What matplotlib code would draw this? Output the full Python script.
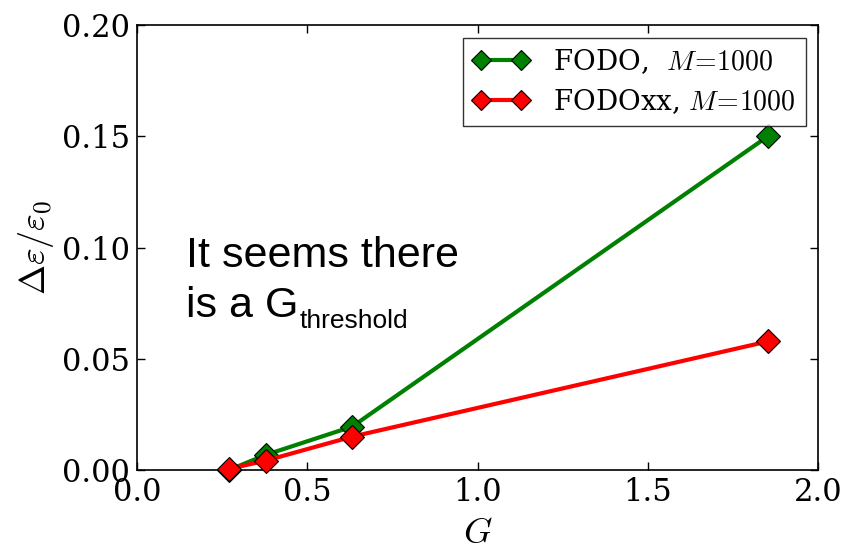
import matplotlib
matplotlib.use("Agg")
import matplotlib.pyplot as plt

G_fodo = [0.27, 0.378, 0.632, 1.853]
de_fodo = [0.0, 0.0068, 0.0195, 0.150]
G_fodoxx = [0.27, 0.378, 0.632, 1.853]
de_fodoxx = [0.0005, 0.0042, 0.0150, 0.0578]

plt.rcParams['mathtext.fontset'] = 'cm'
plt.rcParams['font.family'] = ['DejaVu Serif']
plt.rcParams['axes.unicode_minus'] = False

fig = plt.figure(figsize=(8.58, 5.53), dpi=100)
ax = fig.add_axes([137/858, 1-470/553, (818-137)/858, (470-25)/553])

ax.plot(G_fodo, de_fodo, '-D', color='green', lw=3, ms=12, mec='black', mew=0.8,
        label=r'FODO,  $M\!=\!1000$', clip_on=False, zorder=3)
ax.plot(G_fodoxx, de_fodoxx, '-D', color='red', lw=3, ms=12, mec='black', mew=0.8,
        label=r'FODOxx, $M\!=\!1000$', clip_on=False, zorder=4)

ax.set_xlim(0, 2.0)
ax.set_ylim(0, 0.20)
ax.set_xticks([0.0, 0.5, 1.0, 1.5, 2.0])
ax.set_yticks([0.0, 0.05, 0.10, 0.15, 0.20])
ax.set_xticklabels(['0.0', '0.5', '1.0', '1.5', '2.0'])
ax.set_yticklabels(['0.00', '0.05', '0.10', '0.15', '0.20'])
ax.tick_params(direction='in', top=True, right=True, length=6, width=1, labelsize=22, pad=5)
for s in ax.spines.values():
    s.set_linewidth(1.2)

ax.set_xlabel(r'$G$', fontsize=26, labelpad=6)
ax.set_ylabel(r'$\Delta\varepsilon/\varepsilon_0$', fontsize=26, labelpad=4)

sans = ['Liberation Sans', 'DejaVu Sans']
ax.text(0.143, 0.0912, 'It seems there', fontsize=31, family=sans, va='baseline', ha='left')
t2 = ax.text(0.143, 0.0688, 'is a G', fontsize=31, family=sans, va='baseline', ha='left')
ax.annotate('threshold', xy=(1, 0), xycoords=t2, xytext=(1, -5), textcoords='offset points',
            fontsize=19, family=sans, va='bottom', ha='left')

leg = ax.legend(loc='upper right', numpoints=2, fontsize=20, fancybox=False,
                handlelength=2.05, handletextpad=0.85, borderaxespad=0.45,
                borderpad=0.35, labelspacing=0.4, markerscale=0.85)
leg.get_frame().set_edgecolor('black')
leg.get_frame().set_linewidth(1.0)

fig.savefig('out.png', dpi=100)
